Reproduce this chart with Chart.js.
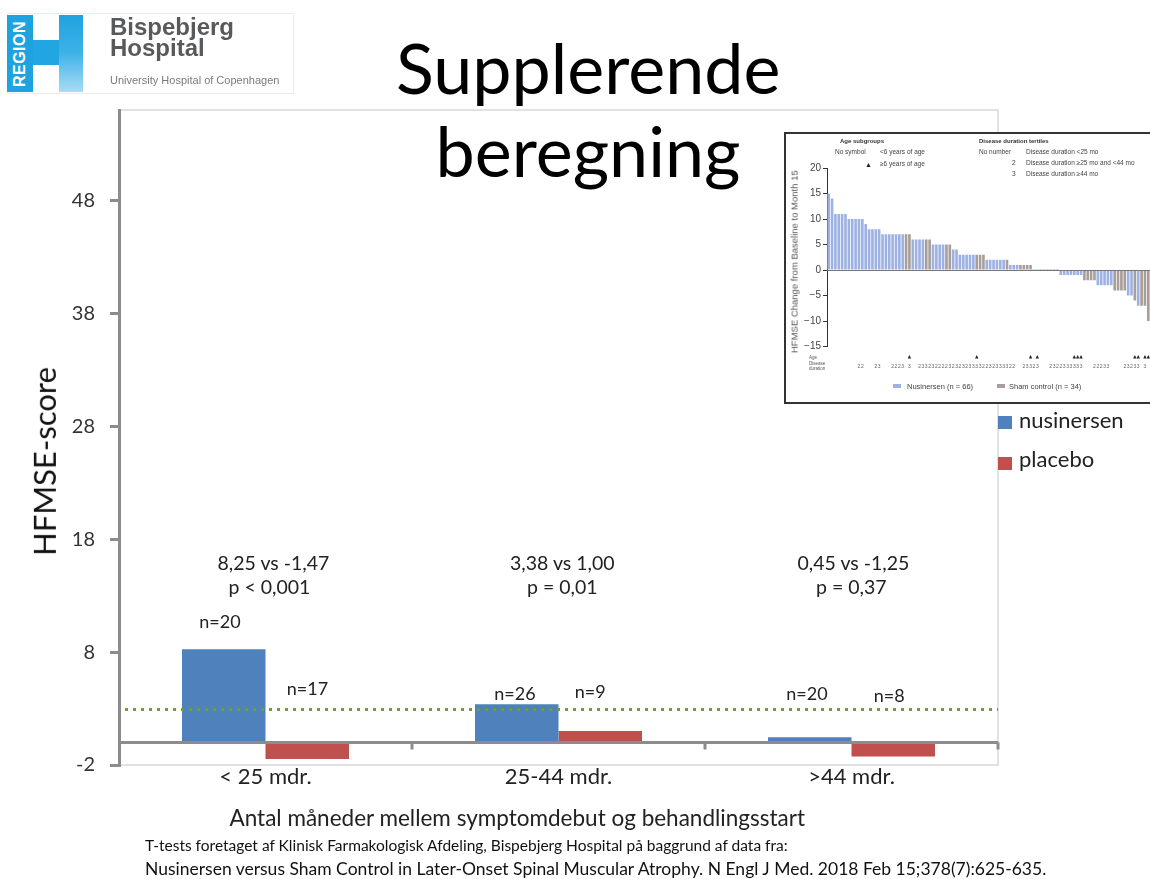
<!DOCTYPE html>
<html>
<head>
<meta charset="utf-8">
<title>Supplerende beregning</title>
<script src="https://cdn.jsdelivr.net/npm/chart.js@4.4.1/dist/chart.umd.min.js"></script>
<style>
	html, body { margin: 0; padding: 0; background: #fff; }
	body { width: 1150px; height: 879px; position: relative; overflow: hidden; font-family: Lato, sans-serif; color: #111; }
	#main { position: absolute; left: 0; top: 0; z-index: 1; }
	.t { position: absolute; white-space: nowrap; line-height: 1; z-index: 5; }
	.blk { position: absolute; }
	#logo { position: absolute; left: 7px; top: 13px; width: 285px; height: 79px; border: 1px solid #ececec; z-index: 4; }
	#insetBox { position: absolute; left: 784px; top: 132px; width: 400px; height: 268px; border: 2px solid #333; background: #fff; z-index: 3; overflow: hidden; }
	#inset { position: absolute; left: 0; top: 0; }
	.sw { position: absolute; z-index: 5; }
</style>
</head>
<body>
<canvas id="main" width="1150" height="879"></canvas>

<div id="logo"></div>
<div class="blk" style="left:7px;top:15px;width:26px;height:77px;background:#1ea3e0;z-index:4"></div>
<div class="blk" style="left:33px;top:40px;width:26px;height:25px;background:#22a6e1;z-index:4"></div>
<div class="blk" style="left:59px;top:15px;width:24px;height:77px;background:linear-gradient(to bottom,#1ea3e0 0%,#3fb2e7 50%,#a9dcf5 100%);z-index:4"></div>

<div id="insetBox"><canvas id="inset" width="380" height="268"></canvas></div>

<div class="sw" style="left:998px;top:416px;width:14px;height:13px;background:#4f81bd"></div>
<div class="sw" style="left:998px;top:457px;width:14px;height:13px;background:#c0504d"></div>
<div class="sw" style="left:893px;top:384px;width:8px;height:4px;background:#9db1e3"></div>
<div class="sw" style="left:997px;top:384px;width:8px;height:4px;background:#a79e99"></div>

<script>
// ── Data: main chart ──────────────────────────────────────────────────────────

const categories = ['< 25 mdr.', '25-44 mdr.', '>44 mdr.'];
const nusinersen = [8.25, 3.38, 0.45];
const placebo = [-1.47, 1.0, -1.25];
const nNusinersen = ['n=20', 'n=26', 'n=20'];
const nPlacebo = ['n=17', 'n=9', 'n=8'];
const comparisons = ['8,25 vs -1,47', '3,38 vs 1,00', '0,45 vs -1,25'];
const pValues = ['p < 0,001', 'p = 0,01', 'p = 0,37'];
const yTicks = [-2, 8, 18, 28, 38, 48];
const yMin = -2;
const yMax = 56;
const mcid = 3;

// ── Data: inset waterfall (NEJM figure) ──────────────────────────────────────

const insetValues = [
	15, 14, 11, 11, 11, 11, 10, 10, 10, 10,
	10, 9, 8, 8, 8, 8, 7, 7, 7, 7,
	7, 7, 7, 7, 7, 6, 6, 6, 6, 6,
	6, 5, 5, 5, 5, 5, 5, 4, 4, 3,
	3, 3, 3, 3, 3, 3, 3, 2, 2, 2,
	2, 2, 2, 2, 1, 1, 1, 1, 1, 1,
	1, 0.2, 0.2, 0.2, 0.2, 0.2, 0.2, 0.2, 0.2, -1,
	-1, -1, -1, -1, -1, -1, -2, -2, -2, -2,
	-3, -3, -3, -3, -3, -4, -4, -4, -4, -5,
	-5, -6, -7, -7, -7, -10,
];
const insetGroups = [
	'N', 'N', 'N', 'N', 'N', 'N', 'N', 'N', 'N', 'N',
	'N', 'N', 'N', 'N', 'N', 'N', 'N', 'N', 'N', 'N',
	'N', 'N', 'N', 'S', 'S', 'N', 'N', 'N', 'N', 'S',
	'S', 'N', 'N', 'N', 'N', 'S', 'S', 'N', 'N', 'N',
	'N', 'N', 'N', 'N', 'S', 'S', 'S', 'N', 'N', 'N',
	'N', 'N', 'N', 'S', 'N', 'N', 'N', 'S', 'S', 'S',
	'S', 'N', 'N', 'S', 'S', 'S', 'S', 'S', 'S', 'N',
	'N', 'N', 'N', 'N', 'N', 'N', 'S', 'S', 'S', 'S',
	'N', 'N', 'N', 'N', 'N', 'S', 'S', 'S', 'S', 'N',
	'N', 'S', 'N', 'S', 'S', 'S',
];
// 0 = no number (<25 mo), 2 = 25–44 mo, 3 = ≥44 mo
const insetDuration = [
	0, 0, 0, 0, 0, 0, 0, 0, 0, 2,
	2, 0, 0, 0, 2, 3, 0, 0, 0, 2,
	2, 2, 3, 0, 3, 0, 0, 2, 3, 3,
	2, 3, 2, 2, 2, 2, 3, 2, 3, 2,
	3, 2, 3, 3, 3, 3, 2, 2, 3, 2,
	3, 3, 3, 3, 2, 2, 0, 0, 2, 3,
	3, 2, 3, 0, 0, 0, 2, 3, 2, 2,
	3, 3, 3, 3, 3, 3, 0, 0, 0, 2,
	2, 2, 3, 3, 0, 0, 0, 0, 2, 3,
	2, 3, 3, 0, 3, 0,
];
// 1 = ≥6 years of age (triangle)
const insetAge = [
	0, 0, 0, 0, 0, 0, 0, 0, 0, 0,
	0, 0, 0, 0, 0, 0, 0, 0, 0, 0,
	0, 0, 0, 0, 1, 0, 0, 0, 0, 0,
	0, 0, 0, 0, 0, 0, 0, 0, 0, 0,
	0, 0, 0, 0, 1, 0, 0, 0, 0, 0,
	0, 0, 0, 0, 0, 0, 0, 0, 0, 0,
	1, 0, 1, 0, 0, 0, 0, 0, 0, 0,
	0, 0, 0, 1, 1, 1, 0, 0, 0, 0,
	0, 0, 0, 0, 0, 0, 0, 0, 0, 0,
	0, 1, 1, 0, 1, 1,
];

// ── Colours ───────────────────────────────────────────────────────────────────

const BLUE = '#4f81bd';
const RED = '#c0504d';
const AXIS_GREY = '#8c8c8c';
const MCID_GREEN = '#6e9e2c';
const INSET_BLUE = '#9db1e3';
const INSET_GREY = '#a79e99';

// ── Text helpers (HTML text placed by baseline) ──────────────────────────────

function addText(str, x, base, size, opts = {}) {
	const el = document.createElement('div');
	el.className = 't';
	el.textContent = str;
	const fam = opts.family || 'Lato';
	const k = fam === 'Lato' ? 0.887 : 0.8465;
	el.style.fontFamily = fam === 'Lato' ? 'Lato, sans-serif' : `"${fam}", sans-serif`;
	el.style.fontSize = size + 'px';
	el.style.top = base - k * size + 'px';
	el.style.left = x + 'px';
	if (opts.weight) el.style.fontWeight = opts.weight;
	if (opts.color) el.style.color = opts.color;
	if (opts.spacing) el.style.letterSpacing = opts.spacing;
	document.body.appendChild(el);
	if (opts.align === 'center') el.style.left = x - el.offsetWidth / 2 + 'px';
	return el;
}

function addRotated(str, cx, cy, size, opts = {}) {
	const el = addText(str, 0, 0, size, opts);
	el.style.left = cx - el.offsetWidth / 2 + 'px';
	el.style.top = cy - el.offsetHeight / 2 + 'px';
	el.style.transform = 'rotate(-90deg)';
	return el;
}

// ── Main chart decorations ───────────────────────────────────────────────────

const slideDecor = {
	id: 'slideDecor',
	beforeDraw(chart) {
		const { ctx, chartArea: a } = chart;
		ctx.save();
		ctx.strokeStyle = '#d9d9d9';
		ctx.lineWidth = 1.5;
		ctx.strokeRect(a.left, a.top, a.right - a.left, a.bottom - a.top);
		ctx.restore();
	},
	afterDatasetsDraw(chart) {
		const { ctx, chartArea: a, scales } = chart;
		const y0 = scales.y.getPixelForValue(0);
		const step = (a.right - a.left) / categories.length;

		ctx.save();
		// Category axis crossing at zero, tick marks between categories.
		ctx.strokeStyle = AXIS_GREY;
		ctx.lineWidth = 3;
		ctx.beginPath();
		ctx.moveTo(a.left, y0);
		ctx.lineTo(a.right, y0);
		for (let i = 1; i <= categories.length; i++) {
			const px = Math.round(a.left + step * i);
			ctx.moveTo(px, y0);
			ctx.lineTo(px, y0 + 7);
		}
		ctx.stroke();

		// Dotted reference line.
		const ym = Math.round(scales.y.getPixelForValue(mcid)) + 0.5;
		ctx.strokeStyle = MCID_GREEN;
		ctx.lineWidth = 3;
		ctx.setLineDash([3, 5]);
		ctx.beginPath();
		ctx.moveTo(a.left + 6, ym);
		ctx.lineTo(a.right, ym);
		ctx.stroke();
		ctx.restore();
	},
};

const mainChart = new Chart(document.getElementById('main'), {
	type: 'bar',
	data: {
		labels: categories,
		datasets: [
			{ label: 'nusinersen', data: nusinersen, backgroundColor: BLUE, categoryPercentage: 0.57, barPercentage: 1 },
			{ label: 'placebo', data: placebo, backgroundColor: RED, categoryPercentage: 0.57, barPercentage: 1 },
		],
	},
	options: {
		responsive: false,
		animation: false,
		layout: { padding: { left: 0, top: 110, right: 152, bottom: 84 } },
		plugins: { legend: { display: false }, tooltip: { enabled: false } },
		scales: {
			x: {
				grid: { display: false },
				border: { display: false },
				ticks: { color: '#222', font: { family: 'Lato', size: 22 }, padding: -9 },
				afterFit: (s) => { s.height = 30; },
			},
			y: {
				min: yMin,
				max: yMax,
				afterBuildTicks: (s) => { s.ticks = yTicks.map((v) => ({ value: v })); },
				afterFit: (s) => { s.width = 119; },
				border: { color: AXIS_GREY, width: 3 },
				grid: { drawOnChartArea: false, tickLength: 9, color: AXIS_GREY, lineWidth: 3 },
				ticks: { color: '#333', font: { family: 'Lato', size: 20 }, padding: 15 },
			},
		},
	},
	plugins: [slideDecor],
});

// ── Inset chart ───────────────────────────────────────────────────────────────

const insetMarks = {
	id: 'insetMarks',
	afterDatasetsDraw(chart) {
		const { ctx, chartArea: a, scales } = chart;
		const y0 = scales.y.getPixelForValue(0);
		ctx.save();
		ctx.strokeStyle = '#777';
		ctx.lineWidth = 1;
		ctx.beginPath();
		ctx.moveTo(a.left, y0 + 0.5);
		ctx.lineTo(a.right, y0 + 0.5);
		ctx.stroke();

		// Row captions under the plot.
		ctx.fillStyle = '#555';
		ctx.font = '4.5px "Liberation Sans"';
		ctx.textAlign = 'left';
		ctx.textBaseline = 'alphabetic';
		ctx.fillText('Age', 23, 225);
		ctx.fillText('Disease', 23, 231);
		ctx.fillText('duration', 23, 236);

		const bars = chart.getDatasetMeta(0).data;
		ctx.font = '5px "Liberation Sans"';
		ctx.textAlign = 'center';
		bars.forEach((bar, i) => {
			if (insetAge[i]) {
				ctx.fillStyle = '#222';
				ctx.beginPath();
				ctx.moveTo(bar.x, 221);
				ctx.lineTo(bar.x + 1.7, 224.5);
				ctx.lineTo(bar.x - 1.7, 224.5);
				ctx.closePath();
				ctx.fill();
			}
			if (insetDuration[i]) {
				ctx.fillStyle = '#666';
				ctx.fillText(String(insetDuration[i]), bar.x, 234);
			}
		});
		ctx.restore();
	},
};

const insetChart = new Chart(document.getElementById('inset'), {
	type: 'bar',
	data: {
		labels: insetValues.map((_, i) => i + 1),
		datasets: [
			{
				data: insetValues,
				backgroundColor: insetGroups.map((g) => (g === 'N' ? INSET_BLUE : INSET_GREY)),
				barPercentage: 0.78,
				categoryPercentage: 1,
			},
		],
	},
	options: {
		responsive: false,
		animation: false,
		layout: { padding: { left: 0, top: 34, right: 16, bottom: 55.5 } },
		plugins: { legend: { display: false }, tooltip: { enabled: false } },
		scales: {
			x: { display: false },
			y: {
				min: -15,
				max: 20,
				afterFit: (s) => { s.width = 41; },
				border: { color: '#333', width: 1 },
				grid: { drawOnChartArea: false, tickLength: 4, color: '#333', lineWidth: 1 },
				ticks: {
					stepSize: 5,
					color: '#444',
					font: { family: 'Liberation Sans', size: 10 },
					padding: 2,
					callback: (v) => (v < 0 ? '\u2212' + Math.abs(v) : String(v)),
				},
			},
		},
	},
	plugins: [insetMarks],
});

// ── Slide texts ───────────────────────────────────────────────────────────────

// Logo
addRotated('REGION', 20, 54, 16, { family: 'Liberation Sans', weight: 'bold', color: '#fff', spacing: '0.5px' });
addText('Bispebjerg', 110, 35, 24, { family: 'Liberation Sans', weight: 'bold', color: '#58595b' });
addText('Hospital', 110, 56, 24, { family: 'Liberation Sans', weight: 'bold', color: '#58595b' });
addText('University Hospital of Copenhagen', 110, 84, 11, { family: 'Liberation Sans', color: '#7a7a7a' });

// Title
addText('Supplerende', 588, 94, 70, { align: 'center', color: '#000' });
addText('beregning', 588, 177, 70, { align: 'center', color: '#000' });

// Axis titles and notes
addRotated('HFMSE-score', 44, 461, 31, { color: '#111' });
addText('Antal måneder mellem symptomdebut  og behandlingsstart', 517, 827, 22.5, { align: 'center', color: '#222' });
addText('T-tests foretaget af Klinisk Farmakologisk Afdeling, Bispebjerg Hospital på baggrund af data fra:', 145, 852, 15.5, { color: '#111' });
addText('Nusinersen versus Sham Control in Later-Onset Spinal Muscular Atrophy. N Engl J Med. 2018 Feb 15;378(7):625-635.', 145, 876, 17.5, { color: '#111' });

// Legend
addText('nusinersen', 1019, 429, 22, { color: '#222' });
addText('placebo', 1019, 468, 22, { color: '#222' });

// Annotations tied to the bars
const metaN = mainChart.getDatasetMeta(0).data;
const metaP = mainChart.getDatasetMeta(1).data;
const cmpShift = [8, 4, 2];
const pShift = [4, 4, 0];
categories.forEach((_, i) => {
	const cx = (metaN[i].x + metaP[i].x) / 2;
	addText(comparisons[i], cx + cmpShift[i], 570, 19.5, { align: 'center', color: '#222' });
	addText(pValues[i], cx + pShift[i], 594, 19.5, { align: 'center', color: '#222' });
});
const nBase = [[628, 695], [700, 698], [700, 702]];
const nShift = [[-4, 0], [-2, -10], [-3, -4]];
categories.forEach((_, i) => {
	addText(nNusinersen[i], metaN[i].x + nShift[i][0], nBase[i][0], 18, { align: 'center', color: '#222' });
	addText(nPlacebo[i], metaP[i].x + nShift[i][1], nBase[i][1], 18, { align: 'center', color: '#222' });
});

// Inset legend texts
const LS = 'Liberation Sans';
addText('Age subgroups', 840, 143, 6, { family: LS, weight: 'bold', color: '#333' });
addText('No symbol', 835, 155, 6.5, { family: LS, color: '#444' });
addText('<6 years of age', 880, 155, 6.5, { family: LS, color: '#444' });
addText('\u25B2', 865, 167, 7, { family: LS, color: '#222' });
addText('\u22656 years of age', 880, 167, 6.5, { family: LS, color: '#444' });
addText('Disease duration tertiles', 979, 143, 6, { family: LS, weight: 'bold', color: '#333' });
addText('No number', 979, 155, 6.5, { family: LS, color: '#444' });
addText('Disease duration <25 mo', 1026, 155, 6.5, { family: LS, color: '#444' });
addText('2', 1012, 166, 6.5, { family: LS, color: '#444' });
addText('Disease duration \u226525 mo and <44 mo', 1026, 166, 6.5, { family: LS, color: '#444' });
addText('3', 1012, 177, 6.5, { family: LS, color: '#444' });
addText('Disease duration \u226544 mo', 1026, 177, 6.5, { family: LS, color: '#444' });
addRotated('HFMSE Change from Baseline to Month 15', 794, 262, 9.5, { family: LS, color: '#555' });
addText('Nusinersen (n = 66)', 907, 389, 7.5, { family: LS, color: '#444' });
addText('Sham control (n = 34)', 1009, 389, 7.5, { family: LS, color: '#444' });
</script>
</body>
</html>
